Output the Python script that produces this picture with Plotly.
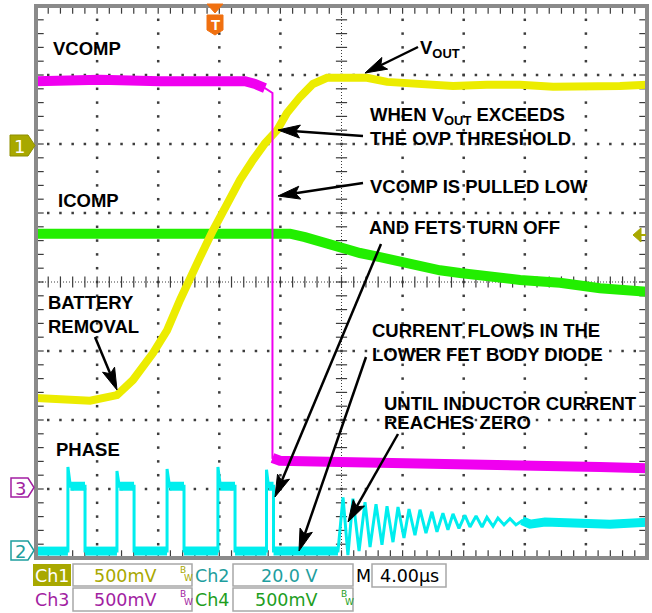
import plotly.graph_objects as go
import numpy as np

# ---------------- data (time in µs, 4 µs/div; level in screen divisions from bottom) -------------
vout_t = [0.00, 1.57, 3.54, 5.30, 6.35, 7.66, 8.58, 9.43, 10.08, 10.74, 11.59, 12.50, 13.36, 14.21,
          14.99, 15.78, 16.43, 17.28, 18.13, 19.05, 20.10, 21.67, 22.98, 25.14, 27.30, 29.52, 31.69,
          33.85, 36.07, 38.23, 40.00]
vout_v = [2.32, 2.29, 2.28, 2.36, 2.58, 2.97, 3.30, 3.74, 4.07, 4.36, 4.75, 5.14, 5.48, 5.77,
          6.01, 6.20, 6.45, 6.68, 6.87, 6.96, 6.97, 6.96, 6.90, 6.86, 6.84, 6.86, 6.86,
          6.83, 6.83, 6.84, 6.86]

vcomp_t = [0.00, 4.19, 8.12, 12.05, 13.68, 14.34, 14.99, 15.48, 15.48, 15.97, 19.90, 23.83, 27.10,
           30.38, 33.65, 36.92, 40.00]
vcomp_v = [6.91, 6.93, 6.91, 6.93, 6.91, 6.87, 6.81, 6.74, 1.45, 1.41, 1.39, 1.38, 1.36,
           1.35, 1.33, 1.32, 1.30]

icomp_t = [0.00, 4.19, 10.74, 15.32, 16.63, 17.61, 18.59, 19.90, 21.21, 22.52, 23.83, 25.14, 26.45,
           27.76, 29.07, 30.38, 31.69, 34.30, 36.92, 40.00]
icomp_v = [4.70, 4.70, 4.70, 4.71, 4.70, 4.65, 4.58, 4.49, 4.42, 4.36, 4.29, 4.23, 4.17,
           4.13, 4.09, 4.06, 4.03, 3.99, 3.91, 3.86]

phase_low = 0.10
phase_high = 1.04
phase_rise_us = [2.09, 5.30, 8.58, 11.91, 15.09]
phase_settle_us = [2.25, 5.45, 8.74, 12.07, 15.22]
phase_fall_us = [3.21, 6.42, 9.69, 13.03, 15.55]
phase_spike = [1.32, 1.26, 1.29, 1.32, 1.28]

ring_t = [19.77, 20.10, 20.42, 20.75, 21.15, 21.54, 21.87, 22.26, 22.65, 22.98, 23.37, 23.70, 24.09,
          24.42, 24.81, 25.14, 25.53, 25.92, 26.25, 26.64, 26.97, 27.30, 27.69, 28.08, 28.41, 28.81,
          29.20, 29.52, 29.92, 30.24, 30.64, 31.03, 31.42, 31.82, 32.34, 33.32, 35.29, 37.58, 40.00]
ring_v = [0.10, 0.88, 0.04, 0.86, 0.10, 0.81, 0.16, 0.78, 0.19, 0.75, 0.23, 0.74, 0.29,
          0.71, 0.33, 0.70, 0.36, 0.67, 0.38, 0.65, 0.41, 0.64, 0.43, 0.62, 0.45, 0.61,
          0.45, 0.59, 0.46, 0.58, 0.48, 0.57, 0.48, 0.54, 0.49, 0.52, 0.51, 0.49, 0.52]

x_range_us = [0, 40]
y_range_div = [0, 8]
major_x_us = [4, 8, 12, 16, 24, 28, 32, 36]
major_y_div = [1, 2, 3, 5, 6, 7]

# ---------------- geometry helpers ----------------
W, H = 652, 613
L, R, T, B = 36, 5, 6, 55
PW, PH = W - L - R, H - T - B


def PX(px):
    return (px - L) / PW


def PY(py):
    return (H - B - py) / PH


YELLOW = "#ECEC00"
MAGENTA = "#F000F0"
GREEN = "#22EE00"
CYAN = "#00EEEE"
OLIVE = "#A8A800"
TEAL = "#1E9E9E"
PURPLE = "#A21EA2"
DKGREEN = "#1E9E1E"
GRID = "#3C3C3C"

# build phase waveform
ph_t = [0.0]
ph_v = [phase_low]
for r, s, f, pk in zip(phase_rise_us, phase_settle_us, phase_fall_us, phase_spike):
    ph_t += [r, r, s, f, f]
    ph_v += [phase_low, pk, phase_high, phase_high, phase_low]
ph_t += ring_t
ph_v += ring_v


def flat_runs(t, v, maxslope=0.5):
    xs, ys = [], []
    run = None
    for i in range(len(t) - 1):
        dx = (t[i + 1] - t[i]) * PW / 40
        dy = (v[i + 1] - v[i]) * PH / 8
        if dx > 0 and abs(dy) <= maxslope * dx:
            if run is None:
                run = ([t[i]], [v[i]])
            run[0].append(t[i + 1])
            run[1].append(v[i + 1])
        else:
            if run is not None:
                xs += run[0] + [None]
                ys += run[1] + [None]
                run = None
    if run is not None:
        xs += run[0]
        ys += run[1]
    return xs, ys


fig = go.Figure()

# ---------------- graticule ----------------
gx, gy = [], []
for xv in major_x_us:
    for k in range(41):
        gx.append(float(xv))
        gy.append(k * 0.2)
for yv in major_y_div:
    for k in range(51):
        gx.append(k * 0.8)
        gy.append(float(yv))
fig.add_trace(go.Scatter(x=gx, y=gy, mode="markers", hoverinfo="skip", cliponaxis=False,
                         marker=dict(symbol="square", size=2.5, color=GRID, opacity=1,
                                     line=dict(width=0))))

# center cross tick marks & border ticks
hx = [k * 0.8 for k in range(51)]
vy = [k * 0.2 for k in range(41)]
fig.add_trace(go.Scatter(x=hx, y=[4.0] * len(hx), mode="markers", hoverinfo="skip",
                         marker=dict(symbol="line-ns", size=8, color=GRID,
                                     line=dict(width=1.2, color=GRID))))
fig.add_trace(go.Scatter(x=[20.0] * len(vy), y=vy, mode="markers", hoverinfo="skip",
                         marker=dict(symbol="line-ew", size=8, color=GRID,
                                     line=dict(width=1.2, color=GRID))))
fig.add_trace(go.Scatter(x=hx + hx, y=[8.0] * len(hx) + [0.0] * len(hx), mode="markers",
                         hoverinfo="skip",
                         marker=dict(symbol="line-ns", size=11, color=GRID,
                                     line=dict(width=1.2, color=GRID))))
fig.add_trace(go.Scatter(x=[0.0] * len(vy) + [40.0] * len(vy), y=vy + vy, mode="markers",
                         hoverinfo="skip",
                         marker=dict(symbol="line-ew", size=11, color=GRID,
                                     line=dict(width=1.2, color=GRID))))

# ---------------- waveforms ----------------
fig.add_trace(go.Scatter(x=icomp_t, y=icomp_v, mode="lines", line=dict(color=GREEN, width=10),
                         hoverinfo="skip"))
fig.add_trace(go.Scatter(x=vout_t, y=vout_v, mode="lines", line=dict(color=YELLOW, width=8),
                         hoverinfo="skip"))
fig.add_trace(go.Scatter(x=vcomp_t, y=vcomp_v, mode="lines", line=dict(color=MAGENTA, width=2),
                         hoverinfo="skip"))
mx, my = flat_runs(vcomp_t, vcomp_v)
fig.add_trace(go.Scatter(x=mx, y=my, mode="lines", line=dict(color=MAGENTA, width=10),
                         hoverinfo="skip"))
fig.add_trace(go.Scatter(x=ph_t, y=ph_v, mode="lines", line=dict(color=CYAN, width=3),
                         hoverinfo="skip"))
cx, cy = flat_runs(ph_t, ph_v)
fig.add_trace(go.Scatter(x=cx, y=cy, mode="lines", line=dict(color=CYAN, width=9),
                         hoverinfo="skip"))

shapes = []
# dense center lines
shapes.append(dict(type="line", xref="x", yref="y", x0=0, x1=40, y0=4, y1=4, layer="below",
                   line=dict(color=GRID, width=1, dash="1px,2px")))
shapes.append(dict(type="line", xref="x", yref="y", x0=20, x1=20, y0=0, y1=8, layer="below",
                   line=dict(color=GRID, width=1, dash="1px,2px")))
# frame
shapes.append(dict(type="rect", xref="paper", yref="paper", x0=0, x1=1, y0=0, y1=1,
                   line=dict(color="#8A8A8A", width=4)))


def ppath(points):
    s = "M" + " L".join(f"{PX(a):.5f},{PY(b):.5f}" for a, b in points) + " Z"
    return s


def arrow(tail, tip, hl=22, hw=6.5):
    tx, ty = tail
    px_, py_ = tip
    dx, dy = px_ - tx, py_ - ty
    n = (dx * dx + dy * dy) ** 0.5
    ux, uy = dx / n, dy / n
    nx, ny = -uy, ux
    bx, by = px_ - ux * hl, py_ - uy * hl
    kx, ky = px_ - ux * hl * 0.8, py_ - uy * hl * 0.8
    shapes.append(dict(type="line", xref="paper", yref="paper", x0=PX(tx), y0=PY(ty),
                       x1=PX(kx), y1=PY(ky), line=dict(color="black", width=2.5)))
    shapes.append(dict(type="path", xref="paper", yref="paper",
                       path=ppath([(px_, py_), (bx + nx * hw, by + ny * hw), (kx, ky),
                                   (bx - nx * hw, by - ny * hw)]),
                       fillcolor="black", line=dict(color="black", width=1)))


arrow((418, 47), (365, 73))
arrow((363, 136), (278, 130))
arrow((363, 183), (278, 196))
arrow((381, 244), (275, 497))
arrow((95, 337), (117, 390))
arrow((366, 357), (299, 551))
arrow((398, 434), (348, 522))

# trigger position marker (top)
shapes.append(dict(type="path", xref="paper", yref="paper",
                   path=ppath([(207, 4), (223, 4), (215, 13)]), fillcolor="#F07010",
                   line=dict(color="#F07010", width=1)))
shapes.append(dict(type="path", xref="paper", yref="paper",
                   path=ppath([(207, 15), (223, 15), (223, 30), (215, 35), (207, 30)]),
                   fillcolor="#F07010", line=dict(color="#F07010", width=1)))
# trigger level marker (right)
shapes.append(dict(type="path", xref="paper", yref="paper",
                   path=ppath([(633, 235), (641, 228), (641, 242)]), fillcolor=OLIVE,
                   line=dict(color=OLIVE, width=1)))
shapes.append(dict(type="line", xref="paper", yref="paper", x0=PX(640), x1=PX(646), y0=PY(235),
                   y1=PY(235), line=dict(color=OLIVE, width=2)))
# channel ground markers (left)
shapes.append(dict(type="path", xref="paper", yref="paper",
                   path=ppath([(10, 135), (28, 135), (35, 145.5), (28, 156), (10, 156)]),
                   fillcolor=OLIVE, line=dict(color="#8E8E00", width=1)))
shapes.append(dict(type="path", xref="paper", yref="paper",
                   path=ppath([(11, 478), (28, 478), (34, 487.5), (28, 497), (11, 497)]),
                   fillcolor="white", line=dict(color=PURPLE, width=1.5)))
shapes.append(dict(type="path", xref="paper", yref="paper",
                   path=ppath([(11, 541), (28, 541), (34, 550.5), (28, 560), (11, 560)]),
                   fillcolor="white", line=dict(color=TEAL, width=1.5)))

# bottom readout boxes
shapes.append(dict(type="rect", xref="paper", yref="paper", x0=PX(33), x1=PX(71), y0=PY(586), y1=PY(564),
                   fillcolor=OLIVE, line=dict(width=0)))
for x0, x1, y0, y1 in [(73, 192, 564, 586), (233, 353, 564, 586), (372, 446, 564, 587),
                       (73, 192, 588, 611), (233, 353, 588, 611)]:
    shapes.append(dict(type="rect", xref="paper", yref="paper", x0=PX(x0), x1=PX(x1), y0=PY(y1),
                       y1=PY(y0), fillcolor="white", line=dict(color="#A8A8A8", width=1.5)))

ann = []
BOLD = dict(family="Liberation Sans, Arial, sans-serif", size=18.5, color="black")


def label(text, x, y, font=BOLD, xanchor="left", yanchor="middle"):
    ann.append(dict(text=text, x=PX(x), y=PY(y), xref="paper", yref="paper", showarrow=False,
                    xanchor=xanchor, yanchor=yanchor, align="left", font=font, borderpad=0))


label("<b>VCOMP</b>", 52, 48)
label("<b>V<sub>OUT</sub></b>", 419, 49)
label("<b>WHEN V<sub>OUT</sub> EXCEEDS</b>", 369, 116)
label("<b>THE OVP THRESHOLD</b>", 369, 138.5)
label("<b>ICOMP</b>", 57, 200)
label("<b>VCOMP IS PULLED LOW</b>", 369, 186.5)
label("<b>AND FETS TURN OFF</b>", 368, 227)
label("<b>BATTERY<br>REMOVAL</b>", 47, 314.5)
label("<b>CURRENT FLOWS IN THE<br>LOWER FET BODY DIODE</b>", 371, 343)
label("<b>UNTIL INDUCTOR CURRENT</b>", 383, 403.5)
label("<b>REACHES ZERO</b>", 383, 422)
label("<b>PHASE</b>", 55, 449.5)

label("<b>T</b>", 215, 24.5, dict(family="Liberation Sans", size=15, color="white"), xanchor="center")

RO = "DejaVu Sans, sans-serif"
label("1", 19.5, 146, dict(family=RO, size=18, color="white"), xanchor="center")
label("3", 20, 488, dict(family=RO, size=18, color=PURPLE), xanchor="center")
label("2", 20, 551, dict(family=RO, size=18, color=TEAL), xanchor="center")

label("Ch1", 52, 575.5, dict(family=RO, size=17.5, color="white"), xanchor="center")
label("500mV", 125, 575.5, dict(family=RO, size=17.5, color=OLIVE), xanchor="center")
label("Ch2", 212, 575.5, dict(family=RO, size=17.5, color=TEAL), xanchor="center")
label("20.0 V", 289, 575.5, dict(family=RO, size=17.5, color=TEAL), xanchor="center")
label("M", 363, 575.5, dict(family=RO, size=17.5, color="black"), xanchor="center")
label("4.00µs", 409, 575.5, dict(family=RO, size=17.5, color="black"), xanchor="center")
label("Ch3", 52, 599.5, dict(family=RO, size=17.5, color=PURPLE), xanchor="center")
label("500mV", 125, 599.5, dict(family=RO, size=17.5, color=PURPLE), xanchor="center")
label("Ch4", 212, 599.5, dict(family=RO, size=17.5, color=DKGREEN), xanchor="center")
label("500mV", 286, 599.5, dict(family=RO, size=17.5, color=DKGREEN), xanchor="center")
for bx, by, col in [(183, 570, OLIVE), (183, 594, PURPLE), (344, 594, DKGREEN)]:
    label("B", bx, by, dict(family=RO, size=9, color=col), xanchor="center")
    label("W", bx + 5, by + 8, dict(family=RO, size=9, color=col), xanchor="center")

fig.update_layout(
    width=W, height=H, margin=dict(l=L, r=R, t=T, b=B),
    paper_bgcolor="white", plot_bgcolor="white", showlegend=False,
    xaxis=dict(range=x_range_us, visible=False, fixedrange=True),
    yaxis=dict(range=y_range_div, visible=False, fixedrange=True),
    shapes=shapes, annotations=ann,
)

fig.write_html("out.html", config={"displayModeBar": False},
               post_script="document.body.style.margin='0px';document.body.style.overflow='hidden';")
